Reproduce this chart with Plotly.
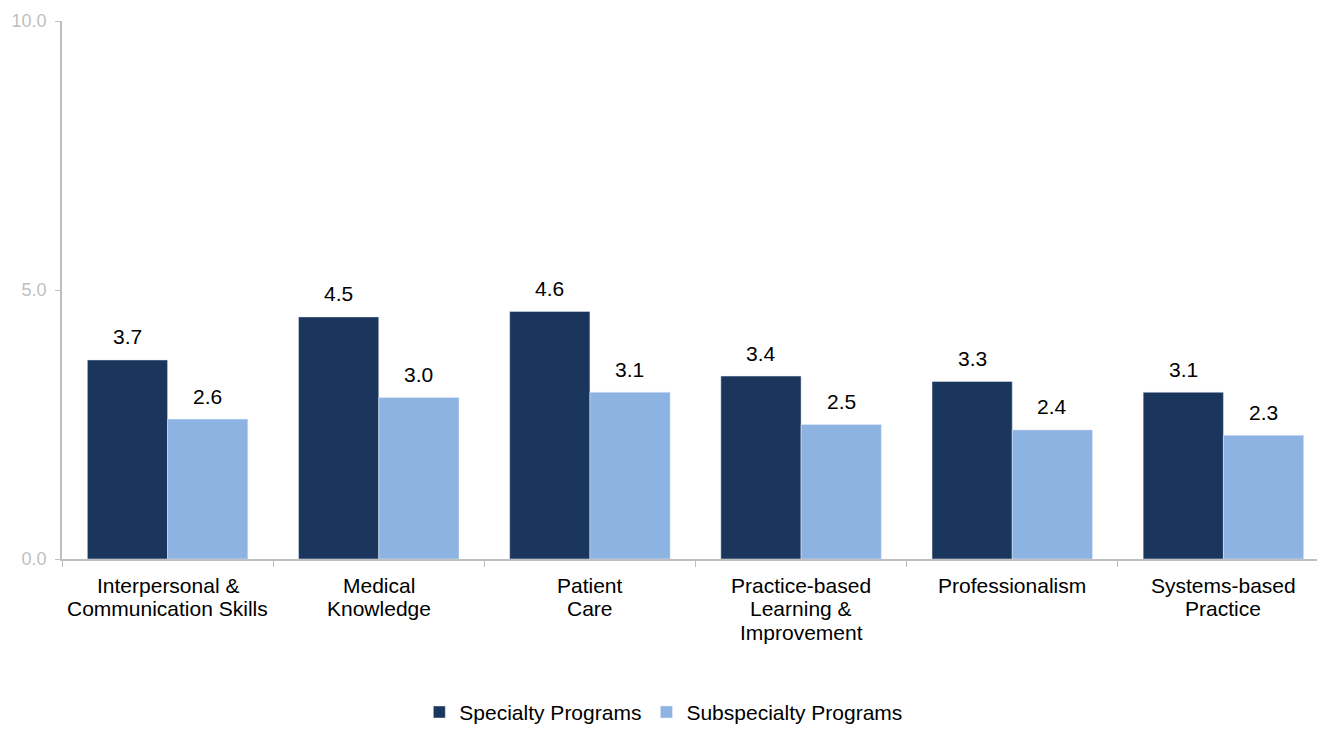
import plotly.graph_objects as go

categories = ["Interpersonal &<br>Communication Skills", "Medical<br>Knowledge", "Patient<br>Care",
              "Practice-based<br>Learning &<br>Improvement", "Professionalism", "Systems-based<br>Practice"]
specialty = [3.7, 4.5, 4.6, 3.4, 3.3, 3.1]
subspecialty = [2.6, 3.0, 3.1, 2.5, 2.4, 2.3]
y_ticks = [0, 5, 10]

DARK = "#1B365D"
LIGHT = "#8DB3E2"
FONT = "Liberation Sans, Arial, sans-serif"
FS = 21

fig = go.Figure()
fig.add_trace(go.Bar(x=categories, y=specialty, name="Specialty Programs", marker_color=DARK))
fig.add_trace(go.Bar(x=categories, y=subspecialty, name="Subspecialty Programs", marker_color=LIGHT))

annotations = []
for cat, a, b in zip(categories, specialty, subspecialty):
    for val, shift in ((a, -40), (b, 40)):
        annotations.append(dict(x=cat, y=val, xref="x", yref="y", text=f"{val:.1f}",
                                showarrow=False, xshift=shift, yshift=23, yanchor="middle",
                                font=dict(family=FONT, size=FS, color="#000000")))
    # category label lines
    for i, line in enumerate(cat.split("<br>")):
        annotations.append(dict(x=cat, y=0, xref="x", yref="paper", text=line,
                                showarrow=False, yshift=-26 - 23.5 * i, yanchor="middle",
                                font=dict(family=FONT, size=FS, color="#000000")))

fig.update_layout(
    width=1325, height=729,
    margin=dict(l=54, r=4, t=13, b=169),
    paper_bgcolor="white", plot_bgcolor="white",
    barmode="group", bargap=0.24, bargroupgap=0,
    font=dict(family=FONT, size=FS, color="#000000"),
    annotations=annotations,
    legend=dict(orientation="h", x=0.475, xanchor="center", y=-0.285, yanchor="middle",
                font=dict(family=FONT, size=FS, color="#000000"),
                traceorder="normal"),
    showlegend=True,
)
fig.update_xaxes(showline=True, linecolor="#BFBFBF", linewidth=1.5, ticks="outside",
                 tickson="boundaries", ticklen=6, tickcolor="#BFBFBF",
                 showticklabels=False, showgrid=False, automargin=False)
fig.update_yaxes(range=[0, 10], tickvals=y_ticks, ticktext=[f"{v:.1f}" for v in y_ticks],
                 showline=True, linecolor="#BFBFBF", linewidth=1.5, ticks="outside",
                 ticklen=5, tickcolor="#BFBFBF", showgrid=False, zeroline=False,
                 automargin=False, ticklabelstandoff=5,
                 tickfont=dict(family=FONT, size=18, color="#BFBFBF"))

fig.write_html("out.html")
